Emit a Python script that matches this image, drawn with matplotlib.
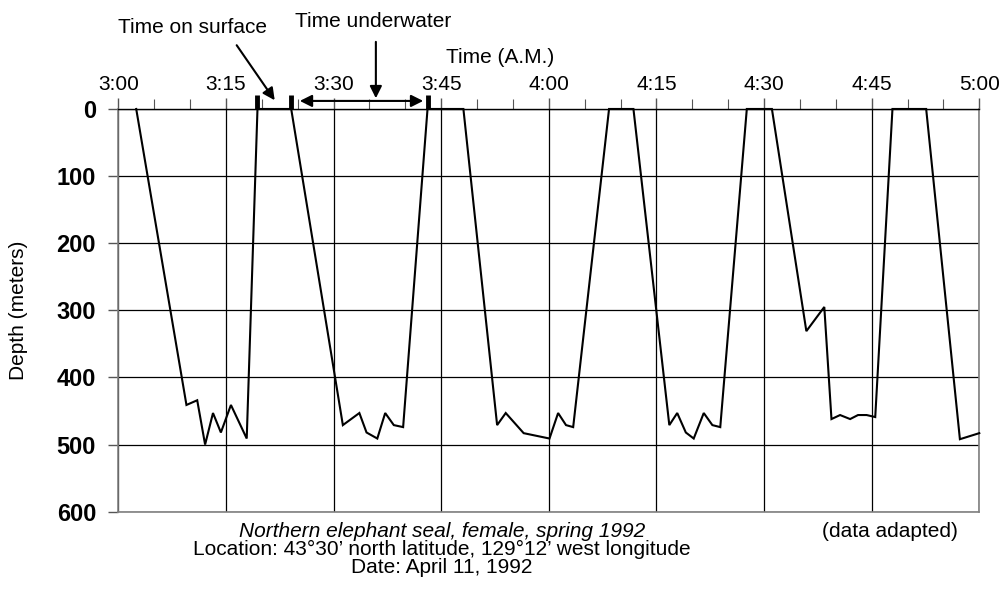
import numpy as np
import matplotlib
matplotlib.use("Agg")
import matplotlib.pyplot as plt
from matplotlib.ticker import MultipleLocator

plt.rcParams['font.family'] = ['Liberation Sans', 'DejaVu Sans']

# minutes after 3:00 A.M. and depth in meters
minutes = [2.5, 9.5, 11.0, 12.1, 13.2, 14.3, 15.7, 17.9, 19.4, 24.1,
           31.3, 33.6, 34.6, 36.1, 37.2, 38.4, 39.7, 43.1, 48.1,
           52.8, 54.0, 56.5, 60.1, 61.3, 62.4, 63.4, 68.4, 71.8,
           76.8, 77.9, 79.1, 80.2, 81.6, 82.8, 83.9, 87.6, 91.1,
           95.9, 98.4, 99.4, 100.6, 102.0, 103.1, 104.3, 105.5, 107.9, 112.6,
           117.3, 120.0]
depth = [0, 441, 434, 500, 453, 482, 441, 491, 0, 0,
         471, 453, 482, 491, 453, 471, 474, 0, 0,
         471, 453, 483, 491, 453, 471, 474, 0, 0,
         471, 453, 482, 491, 453, 471, 474, 0, 0,
         331, 295, 462, 456, 462, 456, 456, 459, 0, 0,
         492, 483]

time_labels = ["3:00", "3:15", "3:30", "3:45", "4:00", "4:15", "4:30", "4:45", "5:00"]
depth_ticks = [0, 100, 200, 300, 400, 500, 600]
# surface / underwater marks at top of chart
mark_times = [19.4, 24.1, 43.1]

fig = plt.figure(figsize=(10.05, 5.91), dpi=100)
ax = fig.add_axes([0.1177, 0.1342, 0.8567, 0.6814])

ax.plot(minutes, depth, color='black', lw=1.5, solid_joinstyle='miter',
        clip_on=False, zorder=3)

ax.set_xlim(0, 120)
ax.set_ylim(600, 0)

ax.xaxis.set_major_locator(MultipleLocator(15))
ax.xaxis.set_minor_locator(MultipleLocator(5))
ax.xaxis.tick_top()
ax.set_xticks(np.arange(0, 121, 15))
ax.set_xticklabels(time_labels, fontsize=15)
ax.tick_params(axis='x', which='major', direction='out', length=8, width=1, pad=3, color='#555555')
ax.tick_params(axis='x', which='minor', direction='out', length=7, width=0.8, color='#555555')

ax.set_yticks(depth_ticks)
ax.set_yticklabels([str(v) for v in depth_ticks], fontsize=17, fontweight='bold')
ax.tick_params(axis='y', direction='out', length=7, width=1, pad=9, color='#555555')

ax.grid(True, which='major', color='black', lw=0.9)
ax.set_axisbelow(True)

for s in ['left', 'right', 'bottom']:
    ax.spines[s].set_color('#808080')
    ax.spines[s].set_linewidth(1.2)
ax.spines['top'].set_color('black')
ax.spines['top'].set_linewidth(1.0)

# thick marks above the top axis
for t in mark_times:
    ax.plot([t, t], [0, -21], color='black', lw=3.5, clip_on=False, solid_capstyle='butt')

arrow_kw = dict(arrowstyle='-|>', color='black', lw=1.5, mutation_scale=18,
                shrinkA=0, shrinkB=0)
ax.annotate("", xy=(21.8, -13), xytext=(16.5, -95), annotation_clip=False,
            arrowprops=arrow_kw)
ax.text(10.4, -121, "Time on surface", fontsize=15, ha='center', va='center')

ax.annotate("", xy=(42.5, -12), xytext=(25.3, -12), annotation_clip=False,
            arrowprops=dict(arrowstyle='<|-|>', color='black', lw=1.5,
                            mutation_scale=18, shrinkA=0, shrinkB=0))
ax.annotate("", xy=(35.9, -16), xytext=(35.9, -100), annotation_clip=False,
            arrowprops=arrow_kw)
ax.text(35.5, -130, "Time underwater", fontsize=15, ha='center', va='center')

fig.text(0.4975, 0.902, "Time (A.M.)", fontsize=15, ha='center', va='center')
fig.text(0.018, 0.475, "Depth (meters)", fontsize=15, ha='center', va='center', rotation=90)

fig.text(0.4398, 0.1005, "Northern elephant seal, female, spring 1992",
         fontsize=15, style='italic', ha='center', va='center')
fig.text(0.4398, 0.0705, "Location: 43°30’ north latitude, 129°12’ west longitude",
         fontsize=15, ha='center', va='center')
fig.text(0.4398, 0.0390, "Date: April 11, 1992", fontsize=15, ha='center', va='center')
fig.text(0.8856, 0.1005, "(data adapted)", fontsize=15, ha='center', va='center')

fig.savefig("out.png", dpi=100)
